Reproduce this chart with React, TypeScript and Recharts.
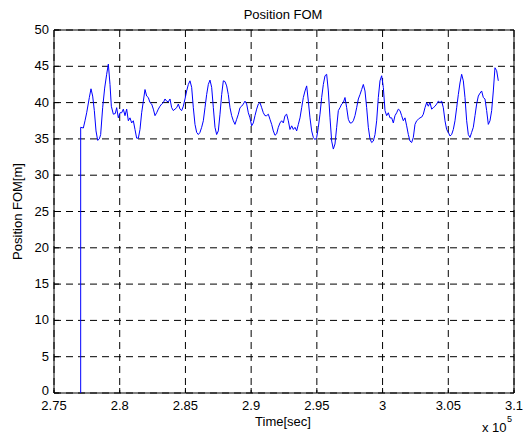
import React from "react";
import { CartesianGrid, Line, LineChart, ReferenceArea, XAxis, YAxis } from "recharts";

const FONT = '"Liberation Sans", Arial, Helvetica, sans-serif';

const xTicks = [275000, 280000, 285000, 290000, 295000, 300000, 305000, 310000];
const xTickLabels = ["2.75", "2.8", "2.85", "2.9", "2.95", "3", "3.05", "3.1"];
const yTicks = [0, 5, 10, 15, 20, 25, 30, 35, 40, 45, 50];

// time in seconds
const timeSec = [
  277030, 277030, 277232, 277359, 277486, 277689, 277815, 277942, 278069, 278196,
  278323, 278449, 278551, 278703, 278855, 279007, 279134, 279261, 279362, 279515,
  279667, 279768, 279895, 280022, 280149, 280275, 280402, 280529, 280656, 280783,
  280909, 281036, 281163, 281290, 281417, 281543, 281670, 281797, 281924, 282051,
  282177, 282304, 282431, 282558, 282685, 282811, 282938, 283065, 283192, 283319,
  283445, 283572, 283699, 283826, 283953, 284079, 284206, 284333, 284460, 284587,
  284713, 284840, 284967, 285094, 285221, 285347, 285474, 285601, 285728, 285855,
  285981, 286108, 286235, 286362, 286489, 286615, 286742, 286869, 286996, 287123,
  287249, 287376, 287503, 287630, 287757, 287883, 288010, 288137, 288264, 288391,
  288517, 288644, 288771, 288898, 289025, 289151, 289278, 289405, 289532, 289659,
  289785, 289912, 290039, 290166, 290293, 290419, 290546, 290673, 290800, 290927,
  291053, 291180, 291307, 291434, 291561, 291687, 291814, 291941, 292068, 292195,
  292321, 292448, 292575, 292702, 292829, 292955,
  293084, 293210, 293337, 293464, 293591, 293718, 293844, 293971, 294098, 294225,
  294352, 294478, 294605, 294732, 294859, 294986, 295112, 295239, 295366, 295493,
  295620, 295746, 295873, 296000, 296127, 296254, 296380, 296507, 296634, 296761,
  296888, 297014, 297141, 297268, 297395, 297522, 297648, 297775, 297902, 298029,
  298156, 298282, 298409, 298536, 298663, 298790, 298916, 299043, 299170, 299297,
  299424, 299550, 299677, 299804, 299931, 300058, 300184, 300311, 300438, 300565,
  300692, 300818, 300945, 301072, 301199, 301326, 301452, 301579, 301706, 301833,
  301960, 302086, 302213, 302340, 302467, 302594, 302720, 302847, 302974, 303101,
  303228, 303354, 303481, 303608, 303735, 303862, 303988, 304115, 304242, 304369,
  304496, 304622, 304749, 304876, 305003, 305130, 305256, 305383, 305510, 305637,
  305764, 305890, 306017, 306144, 306271, 306398, 306524, 306651, 306778, 306905,
  307032, 307158, 307285, 307412, 307539, 307666, 307792, 307919, 308046, 308173,
  308300, 308426, 308553, 308680, 308807
];

// position FOM in metres
const fomMeters = [
  0, 36.6, 36.5, 37.5, 38.6, 40.7, 41.9, 40.9, 38.9, 36.1,
  34.8, 35.0, 35.6, 39.3, 42.0, 43.9, 45.3, 42.5, 39.5, 38.4,
  38.5, 39.3, 37.9, 38.6, 38.6, 39.1, 38.2, 39.1, 37.5, 37.9,
  37.2, 37.5, 36.3, 35.1, 35.1, 36.3, 38.6, 40.2, 41.8, 40.9,
  40.7, 40.0, 39.8, 39.1, 38.2, 38.6, 39.1, 39.5, 39.8, 40.0,
  40.5, 40.2, 40.1, 40.5, 39.3, 38.9, 39.1, 39.3, 39.8, 39.1,
  38.9, 39.5, 40.5, 41.6, 42.5, 43.0, 42.1, 39.3, 37.0, 35.9,
  35.6, 35.9, 36.6, 37.5, 39.3, 41.1, 42.5, 43.1, 42.1, 39.3,
  36.6, 35.6, 36.1, 38.4, 41.1, 43.0, 42.9, 42.3, 41.1, 39.3,
  38.2, 37.5, 37.0, 37.7, 38.4, 39.3, 39.5, 39.8, 40.2, 39.8,
  38.6, 37.9, 36.8, 37.2, 38.2, 39.1, 39.8, 40.0, 39.3, 38.6,
  38.2, 38.2, 38.4, 37.7, 37.0, 36.1, 35.5, 35.7, 36.6, 37.2,
  37.5, 37.2, 38.2, 38.4, 37.5, 36.3,
  36.8, 36.3, 36.6, 36.1, 37.0, 37.9, 39.3, 40.7, 41.6, 42.3,
  40.2, 37.9, 36.1, 35.2, 34.9, 35.2, 36.6, 38.4, 40.7, 42.5,
  43.7, 43.9, 41.6, 37.9, 34.7, 33.6, 34.3, 36.6, 38.9, 39.3,
  39.8, 40.0, 40.7, 39.3, 37.7, 37.2, 37.2, 37.5, 38.2, 39.3,
  40.5, 41.1, 41.8, 42.5, 41.6, 39.3, 36.6, 35.0, 34.5, 34.7,
  35.6, 37.5, 40.7, 43.0, 43.7, 42.1, 38.9, 38.2, 38.6, 37.9,
  37.9, 37.2, 38.2, 38.6, 39.1, 38.9, 38.2, 37.5, 37.9, 36.8,
  35.6, 34.7, 34.5, 35.2, 37.0, 37.5, 37.7, 37.9, 38.0, 38.4,
  39.3, 40.0, 39.5, 40.0, 39.1, 39.3, 39.5, 39.8, 40.2, 40.0,
  40.2, 39.3, 37.5, 36.3, 35.9, 35.4, 35.6, 36.3, 37.5, 39.3,
  41.1, 42.7, 43.9, 43.0, 40.7, 37.5, 35.6, 35.2, 35.9, 36.6,
  38.2, 39.8, 40.9, 41.3, 41.6, 40.7, 40.5, 38.9, 37.0, 37.5,
  38.9, 41.6, 44.8, 44.4, 43.0
];

const data = timeSec.map((t, i) => ({ t, fom: fomMeters[i] }));

const TICK_LEN = 5;

function BottomTick(props: any) {
  const { x, y, index } = props;
  return (
    <g>
      <line x1={x} x2={x} y1={y} y2={y - TICK_LEN} stroke="#000" />
      <text x={x} y={y + 16.5} textAnchor="middle" fontSize={13} fontFamily={FONT} fill="#000">
        {xTickLabels[index]}
      </text>
    </g>
  );
}

function TopTick(props: any) {
  const { x, y } = props;
  return <line x1={x} x2={x} y1={y} y2={y + TICK_LEN} stroke="#000" />;
}

function LeftTick(props: any) {
  const { x, y, payload } = props;
  // the 0 label sits a touch higher so it clears the 2.75 label below it
  const dy = payload.value === 0 ? 1.8 : 4;
  return (
    <g>
      <line x1={x} x2={x + TICK_LEN} y1={y} y2={y} stroke="#000" />
      <text x={x - 5} y={y + dy} textAnchor="end" fontSize={13} fontFamily={FONT} fill="#000">
        {payload.value}
      </text>
    </g>
  );
}

function RightTick(props: any) {
  const { x, y } = props;
  return <line x1={x} x2={x - TICK_LEN} y1={y} y2={y} stroke="#000" />;
}

export default function App() {
  return (
    <div style={{ position: "absolute", left: 0, top: 0, width: 527, height: 436, background: "#fff" }}>
      <LineChart width={527} height={436} data={data} margin={{ top: 30, right: 13, bottom: 0, left: 0 }}>
        <CartesianGrid stroke="#000" strokeDasharray="7 5" />
        <XAxis
          dataKey="t"
          type="number"
          domain={[275000, 310000]}
          ticks={xTicks}
          allowDataOverflow
          height={43}
          tickSize={0}
          tickMargin={0}
          axisLine={false}
          tickLine={false}
          tick={BottomTick}
          interval={0}
        />
        <XAxis
          xAxisId="top"
          orientation="top"
          dataKey="t"
          type="number"
          domain={[275000, 310000]}
          ticks={xTicks}
          allowDataOverflow
          height={0}
          tickSize={0}
          tickMargin={0}
          axisLine={false}
          tickLine={false}
          tick={TopTick}
          interval={0}
        />
        <YAxis
          type="number"
          domain={[0, 50]}
          ticks={yTicks}
          allowDataOverflow
          width={54}
          tickSize={0}
          tickMargin={0}
          axisLine={false}
          tickLine={false}
          tick={LeftTick}
          interval={0}
        />
        <YAxis
          yAxisId="right"
          orientation="right"
          type="number"
          domain={[0, 50]}
          ticks={yTicks}
          allowDataOverflow
          width={0}
          tickSize={0}
          tickMargin={0}
          axisLine={false}
          tickLine={false}
          tick={RightTick}
          interval={0}
        />
        <Line
          dataKey="fom"
          type="linear"
          stroke="#0000ff"
          strokeWidth={1}
          dot={false}
          activeDot={false}
          isAnimationActive={false}
        />
        <ReferenceArea
          x1={275000}
          x2={310000}
          y1={0}
          y2={50}
          fill="none"
          stroke="#000"
          strokeWidth={1}
          ifOverflow="visible"
        />
      </LineChart>
      <svg
        width={527}
        height={436}
        style={{ position: "absolute", left: 0, top: 0, pointerEvents: "none" }}
        fontFamily={FONT}
      >
        <text x={283} y={19} textAnchor="middle" fontSize={13} fill="#000">Position FOM</text>
        <text x={283} y={426} textAnchor="middle" fontSize={13} fill="#000">Time[sec]</text>
        <text transform="translate(17,211.5) rotate(-90)" textAnchor="middle" dy="0.35em" fontSize={13} fill="#000">
          Position FOM[m]
        </text>
        <text x={482} y={432} fontSize={13} fill="#000">x 10</text>
        <text x={507} y={422} fontSize={9} fill="#000">5</text>
      </svg>
    </div>
  );
}
